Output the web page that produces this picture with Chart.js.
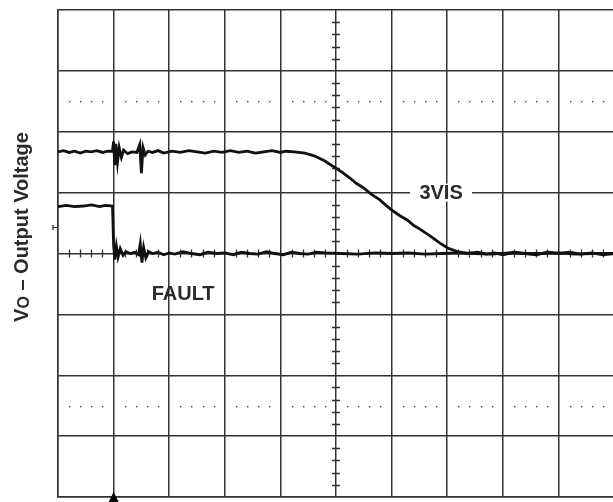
<!DOCTYPE html>
<html>
<head>
<meta charset="utf-8">
<script src="https://cdn.jsdelivr.net/npm/chart.js@4/dist/chart.umd.min.js"></script>
<style>
  html, body { margin: 0; padding: 0; background: #fff; overflow: hidden; }
  #wrap { width: 613px; height: 502px; overflow: hidden; }
</style>
</head>
<body>
<div id="wrap"><canvas id="scopeChart" width="625" height="502"></canvas></div>
<script>
// values, in divisions (x: 0..10, y: 0..8)
const vis3X = [0, 0.1, 0.2, 0.3, 0.4, 0.5, 0.6, 0.7, 0.8, 0.9, 0.98,
    1.0, 1.02, 1.04, 1.07, 1.1, 1.14, 1.18, 1.25, 1.33, 1.42,
    1.47, 1.5, 1.53, 1.57, 1.62, 1.7, 1.8, 1.9, 2.05, 2.2, 2.35, 2.5, 2.65, 2.8, 2.95, 3.1, 3.25,
    3.4, 3.55, 3.7, 3.85, 4.0, 4.1, 4.25,
    4.44, 4.62, 4.80, 5.0, 5.12, 5.25, 5.37, 5.49, 5.64, 5.79, 5.9, 6.01, 6.15, 6.28, 6.4, 6.51,
    6.69, 6.87, 7.01, 7.18, 7.36,
    7.55, 7.7, 7.85, 8.0, 8.2, 8.4, 8.6, 8.8, 9.0, 9.2, 9.4, 9.6, 9.8, 10];
const vis3Y = [5.67, 5.69, 5.66, 5.68, 5.65, 5.68, 5.67, 5.69, 5.66, 5.68, 5.68,
    5.84, 5.45, 5.80, 5.50, 5.74, 5.58, 5.70, 5.64, 5.67, 5.66,
    5.79, 5.32, 5.74, 5.62, 5.68, 5.66, 5.69, 5.65, 5.68, 5.66, 5.69, 5.67, 5.65, 5.68, 5.66, 5.69, 5.66,
    5.68, 5.65, 5.67, 5.69, 5.66, 5.68, 5.67,
    5.65, 5.60, 5.52, 5.40, 5.33, 5.24, 5.15, 5.08, 4.97, 4.88, 4.79, 4.71, 4.62, 4.55, 4.46, 4.40,
    4.29, 4.17, 4.09, 4.03, 4.00,
    4.02, 3.99, 4.01, 3.98, 4.02, 4.0, 3.98, 4.02, 4.0, 4.02, 3.99, 4.01, 3.98, 4.0];

const faultX = [0, 0.15, 0.3, 0.45, 0.6, 0.75, 0.85, 0.98, 1.0, 1.02, 1.05, 1.08, 1.12, 1.17, 1.22,
    1.3, 1.38, 1.45, 1.48, 1.51, 1.54, 1.58, 1.63, 1.7, 1.8, 1.9, 2.0, 2.1, 2.25, 2.4, 2.55, 2.7, 2.85,
    3.0, 3.15, 3.3, 3.45, 3.6, 3.75, 3.9, 4.05, 4.2, 4.35, 4.5, 4.65,
    4.8, 5.1, 5.4, 5.7, 6.0, 6.3, 6.6, 6.9, 7.2, 7.5, 7.8, 8.1, 8.4, 8.7, 9.0, 9.3, 9.6, 10];
const faultY = [4.77, 4.79, 4.77, 4.78, 4.80, 4.77, 4.79, 4.78, 4.15, 3.90, 4.12, 3.94, 4.08, 3.97, 4.03,
    4.0, 4.02, 3.98, 4.16, 3.85, 4.10, 3.93, 4.03, 4.0, 4.02, 3.98, 4.01, 3.99, 4.03, 4.0, 3.98, 4.02, 4.0,
    4.01, 3.98, 4.02, 4.0, 3.99, 4.03, 4.0, 3.98, 4.02, 4.0, 3.99, 4.02,
    4.01, 4.0, 3.99, 4.01, 4.0, 4.01, 3.99, 4.0, 4.01, 4.0, 3.99, 4.01, 4.0, 4.0, 4.01, 3.99, 4.0, 4.0];

const traceNames = ['3VIS', 'FAULT'];
const yTitleMain = 'V';
const yTitleSub = 'O';
const yTitleRest = ' \u2013 Output Voltage';

const FONT = 'bold 20px "Liberation Sans", Arial, sans-serif';
const SUB_FONT = 'bold 16px "Liberation Sans", Arial, sans-serif';

function toPoints(xs, ys) {
    return xs.map((x, i) => ({ x: x, y: ys[i] }));
}

// scope graticule extras: centre-line ticks, dotted rows, markers and labels
const scopeDecor = {
    id: 'scopeDecor',
    beforeDatasetsDraw(chart) {
        const { ctx, scales: { x, y } } = chart;
        ctx.save();
        ctx.strokeStyle = '#333';
        ctx.lineWidth = 1.3;
        const cx = x.getPixelForValue(5);
        const cy = y.getPixelForValue(4);
        ctx.beginPath();
        for (let v = 0.2; v < 8; v += 0.2) {
            if (Math.abs(v - Math.round(v)) < 0.01) continue;
            const py = Math.round(y.getPixelForValue(v)) + 0.5;
            ctx.moveTo(cx - 4, py);
            ctx.lineTo(cx + 4, py);
        }
        for (let v = 0.2; v < 10; v += 0.2) {
            if (Math.abs(v - Math.round(v)) < 0.01) continue;
            const px = Math.round(x.getPixelForValue(v)) + 0.5;
            ctx.moveTo(px, cy - 4);
            ctx.lineTo(px, cy + 4);
        }
        ctx.stroke();

        // dotted half-division rows
        ctx.fillStyle = '#444';
        [6.5, 1.5].forEach(row => {
            const py = Math.round(y.getPixelForValue(row));
            for (let v = 0.2; v < 10; v += 0.2) {
                if (Math.abs(v - Math.round(v)) < 0.01) continue;
                ctx.fillRect(Math.round(x.getPixelForValue(v)), py, 1.4, 1.4);
            }
        });

        // channel reference marker on the left edge
        const my = Math.round(y.getPixelForValue(4.43)) + 0.5;
        const lx = x.getPixelForValue(0);
        ctx.strokeStyle = '#222';
        ctx.lineWidth = 1.2;
        ctx.beginPath();
        ctx.moveTo(lx - 5, my);
        ctx.lineTo(lx, my);
        ctx.moveTo(lx - 5, my - 2.5);
        ctx.lineTo(lx - 5, my + 2.5);
        ctx.stroke();

        // trigger marker at the bottom
        const tx = x.getPixelForValue(1);
        const by = y.getPixelForValue(0);
        ctx.fillStyle = '#000';
        ctx.beginPath();
        ctx.moveTo(tx, by - 5);
        ctx.lineTo(tx + 5, by + 5);
        ctx.lineTo(tx - 5, by + 5);
        ctx.closePath();
        ctx.fill();
        ctx.restore();
    },
    afterDatasetsDraw(chart) {
        const { ctx, scales: { x, y } } = chart;
        ctx.save();
        ctx.font = FONT;
        ctx.textBaseline = 'middle';
        ctx.textAlign = 'center';

        // 3VIS label sits on the gridline with a white gap
        const lx = x.getPixelForValue(6.89);
        const ly = y.getPixelForValue(5);
        ctx.fillStyle = '#fff';
        ctx.fillRect(lx - 31, ly - 9, 62, 18);
        ctx.fillStyle = '#2a2a2a';
        ctx.fillText(traceNames[0], lx, ly + 1);

        ctx.fillText(traceNames[1], x.getPixelForValue(2.25), y.getPixelForValue(3.32));

        // y axis title with subscript
        ctx.translate(22, 227);
        ctx.rotate(-Math.PI / 2);
        ctx.textAlign = 'left';
        const wMain = ctx.measureText(yTitleMain).width;
        ctx.font = SUB_FONT;
        const wSub = ctx.measureText(yTitleSub).width;
        ctx.font = FONT;
        const wRest = ctx.measureText(yTitleRest).width;
        let pos = -(wMain + wSub + wRest) / 2;
        ctx.fillText(yTitleMain, pos, 0);
        pos += wMain;
        ctx.font = SUB_FONT;
        ctx.fillText(yTitleSub, pos, 3);
        pos += wSub;
        ctx.font = FONT;
        ctx.fillText(yTitleRest, pos, 0);
        ctx.restore();
    }
};

function createScopeChart() {
    const ctx = document.getElementById('scopeChart').getContext('2d');
    const traceStyle = {
        borderColor: '#111',
        borderWidth: 2.8,
        pointRadius: 0,
        showLine: true,
        tension: 0,
        fill: false
    };
    new Chart(ctx, {
        type: 'scatter',
        data: {
            datasets: [
                Object.assign({ label: traceNames[0], data: toPoints(vis3X, vis3Y) }, traceStyle),
                Object.assign({ label: traceNames[1], data: toPoints(faultX, faultY) }, traceStyle)
            ]
        },
        options: {
            responsive: false,
            animation: false,
            layout: { padding: { left: 58, top: 10, right: 11, bottom: 5 } },
            plugins: {
                legend: { display: false },
                tooltip: { enabled: false }
            },
            scales: {
                x: {
                    type: 'linear',
                    min: 0,
                    max: 10,
                    ticks: { display: false, stepSize: 1 },
                    grid: { color: '#333', lineWidth: 1.5, drawTicks: false },
                    border: { color: '#333', width: 1.5 }
                },
                y: {
                    type: 'linear',
                    min: 0,
                    max: 8,
                    ticks: { display: false, stepSize: 1 },
                    grid: { color: '#333', lineWidth: 1.5, drawTicks: false },
                    border: { color: '#333', width: 1.5 }
                }
            }
        },
        plugins: [scopeDecor]
    });
}

document.addEventListener('DOMContentLoaded', createScopeChart);
</script>
</body>
</html>
